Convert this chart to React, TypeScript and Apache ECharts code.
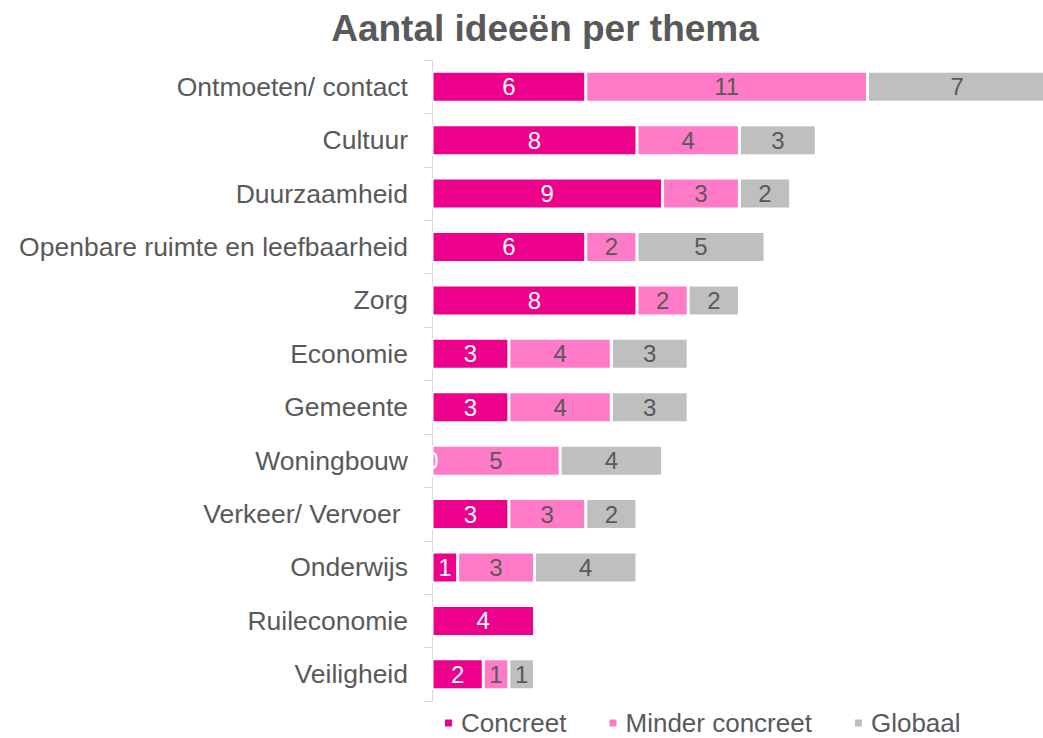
import React, { useEffect, useRef } from "react";
import * as echarts from "echarts";

const categories = [
  "Ontmoeten/ contact",
  "Cultuur",
  "Duurzaamheid",
  "Openbare ruimte en leefbaarheid",
  "Zorg",
  "Economie",
  "Gemeente",
  "Woningbouw",
  "Verkeer/ Vervoer ",
  "Onderwijs",
  "Ruileconomie",
  "Veiligheid",
];
const concreet = [6, 8, 9, 6, 8, 3, 3, 0, 3, 1, 4, 2];
const minderConcreet = [11, 4, 3, 2, 2, 4, 4, 5, 3, 3, 0, 1];
const globaal = [7, 3, 2, 5, 2, 3, 3, 4, 2, 4, 0, 1];

const FONT = "'Liberation Sans', Arial, sans-serif";
const GREY = "#595959";

export default function App() {
  const ref = useRef<HTMLDivElement>(null);
  useEffect(() => {
    if (!ref.current) return;
    const chart = echarts.init(ref.current, undefined, { renderer: "svg" });
    const mk = (name: string, data: number[], color: string, labelColor: string, showZero: boolean) => ({
      name,
      type: "bar",
      stack: "total",
      data,
      barWidth: 31,
      clip: false,
      itemStyle: { color, borderColor: "#ffffff", borderWidth: 1.5 },
      label: {
        show: true,
        position: "inside",
        color: labelColor,
        fontSize: 24,
        fontFamily: FONT,
        formatter: (p: any) => (p.value === 0 && !showZero ? "" : String(p.value)),
      },
    });
    chart.setOption({
      animation: false,
      textStyle: { fontFamily: FONT },
      title: {
        text: "Aantal ideeën per thema",
        left: 540,
        textAlign: "center",
        top: 5,
        textStyle: { fontSize: 37, fontWeight: "bold", color: GREY, fontFamily: FONT },
      },
      legend: {
        left: 438,
        top: 705,
        icon: "rect",
        itemWidth: 9,
        itemHeight: 9,
        itemGap: 41,
        textStyle: { fontSize: 26, lineHeight: 22, color: GREY, fontFamily: FONT, padding: [0, 0, 0, 3] },
        data: ["Concreet", "Minder concreet", "Globaal"],
      },
      grid: { left: 432, right: 0, top: 60, bottom: 37, containLabel: false },
      xAxis: {
        type: "value",
        min: 0,
        max: 23.85,
        show: false,
      },
      yAxis: {
        type: "category",
        data: categories,
        inverse: true,
        axisLine: { show: true, lineStyle: { color: "#D9D9D9", width: 1 } },
        axisTick: { show: true, length: 8, lineStyle: { color: "#D9D9D9" } },
        axisLabel: { fontSize: 26.5, color: GREY, margin: 24, fontFamily: FONT },
      },
      series: [
        mk("Concreet", concreet, "#EC008C", "#ffffff", true),
        mk("Minder concreet", minderConcreet, "#FF7BC8", GREY, false),
        mk("Globaal", globaal, "#BFBFBF", GREY, false),
      ],
    });
    return () => chart.dispose();
  }, []);
  return (
    <div
      ref={ref}
      style={{ position: "fixed", left: 0, top: 0, width: 1043, height: 738, background: "#ffffff" }}
    />
  );
}
